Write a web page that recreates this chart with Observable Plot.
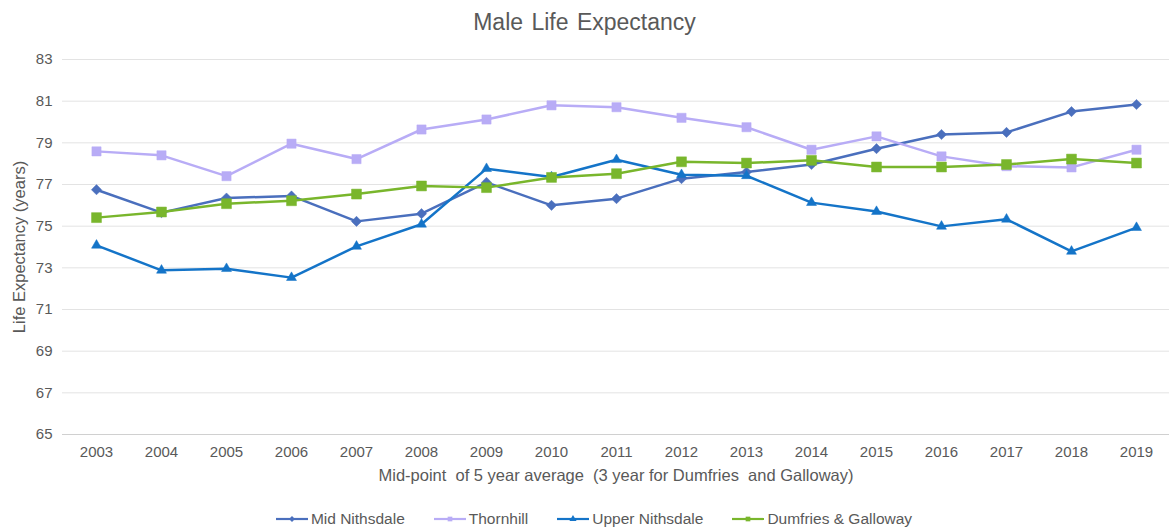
<!DOCTYPE html>
<html>
<head>
<meta charset="utf-8">
<script src="https://cdn.jsdelivr.net/npm/d3@7"></script>
<script src="https://cdn.jsdelivr.net/npm/@observablehq/plot@0.6"></script>
<style>
  html, body { margin: 0; padding: 0; background: #fff; }
  body { width: 1169px; height: 528px; overflow: hidden; font-family: "Liberation Sans", Arial, sans-serif; color: #595959; }
  #title { height: 40px; padding-top: 2px; box-sizing: border-box; text-align: center; font-size: 23px; line-height: 40px; color: #595959; word-spacing: 2px; }
  #chart svg { display: block; }
  #legend { display: flex; justify-content: center; align-items: center; gap: 28px; height: 28px; padding-top: 10px; box-sizing: border-box; font-size: 15.5px; padding-left: 18px; }
  .item { display: flex; align-items: center; }
  .item svg { margin-right: 2px; }
</style>
</head>
<body>
<div id="title">Male Life Expectancy</div>
<div id="chart"></div>
<div id="legend"></div>
<script>
const years = ["2003","2004","2005","2006","2007","2008","2009","2010","2011","2012","2013","2014","2015","2016","2017","2018","2019"];
const seriesNames = ["Mid Nithsdale", "Thornhill", "Upper Nithsdale", "Dumfries & Galloway"];
const midNithsdale = [76.75,75.65,76.35,76.45,75.23,75.6,77.1,76.0,76.32,77.28,77.6,77.96,78.72,79.4,79.5,80.5,80.84];
const thornhill = [78.59,78.4,77.4,78.96,78.22,79.64,80.12,80.8,80.71,80.2,79.75,78.67,79.31,78.35,77.88,77.82,78.67];
const upperNithsdale = [74.08,72.88,72.96,72.53,74.03,75.09,77.76,77.36,78.19,77.47,77.42,76.13,75.7,74.99,75.33,73.79,74.93];
const dumfriesGalloway = [75.41,75.68,76.08,76.22,76.54,76.93,76.85,77.34,77.52,78.09,78.03,78.16,77.84,77.84,77.96,78.22,78.03];
const yTicks = [65,67,69,71,73,75,77,79,81,83];

const colors = ["#4a6fbd", "#b8acf6", "#1474c8", "#79b62c"];
const symbols = [d3.symbolDiamond2, d3.symbolSquare, d3.symbolTriangle, d3.symbolSquare];
const radii = [4.6, 5.2, 3.7, 5.6];
const values = [midNithsdale, thornhill, upperNithsdale, dumfriesGalloway];

const rows = seriesNames.map((name, s) => years.map((y, i) => ({series: name, year: y, value: values[s][i]})));

const marks = [
  Plot.gridY(yTicks.slice(1), {stroke: "#e3e3e3", strokeOpacity: 1, strokeWidth: 1}),
  Plot.ruleY([65], {stroke: "#d0d0d0", strokeWidth: 1}),
  Plot.axisX({tickSize: 0, tickPadding: 12, fontSize: 15, label: "Mid-point  of 5 year average  (3 year for Dumfries  and Galloway)", labelAnchor: "center", labelOffset: 46, labelArrow: "none", style: {}}),
  Plot.axisY(yTicks, {tickSize: 0, tickPadding: 10, fontSize: 15, label: "Life Expectancy (years)", labelAnchor: "center", labelOffset: 49, labelArrow: "none"})
];
rows.forEach((data, s) => {
  marks.push(Plot.line(data, {x: "year", y: "value", stroke: colors[s], strokeWidth: 2.5}));
  marks.push(Plot.dot(data, {x: "year", y: "value", fill: colors[s], stroke: colors[s], strokeWidth: 0.5, symbol: () => symbols[s], r: radii[s]}));
});

const chart = Plot.plot({
  width: 1169,
  height: 460,
  marginTop: 19,
  marginBottom: 66,
  marginLeft: 62,
  marginRight: 0,
  style: {fontFamily: "'Liberation Sans', Arial, sans-serif", color: "#595959", fontSize: "15px", background: "#fff"},
  x: {type: "point", domain: years, padding: 0.5, label: null},
  y: {domain: [65, 83], label: null},
  symbol: {type: "identity"},
  marks
});
// enlarge axis titles a bit to match reference
d3.select(chart).selectAll("g[aria-label='x-axis label'] text, g[aria-label='y-axis label'] text").style("font-size", "16.5px");
document.getElementById("chart").appendChild(chart);

const legend = document.getElementById("legend");
seriesNames.forEach((name, s) => {
  const item = document.createElement("div");
  item.className = "item";
  const svg = d3.create("svg").attr("width", 34).attr("height", 12);
  svg.append("line").attr("x1", 1).attr("x2", 33).attr("y1", 6).attr("y2", 6).attr("stroke", colors[s]).attr("stroke-width", 2.2);
  svg.append("path").attr("d", d3.symbol(symbols[s], 22)()).attr("transform", "translate(17,6)").attr("fill", colors[s]);
  item.appendChild(svg.node());
  const t = document.createElement("span");
  t.textContent = name;
  item.appendChild(t);
  legend.appendChild(item);
});
</script>
</body>
</html>
